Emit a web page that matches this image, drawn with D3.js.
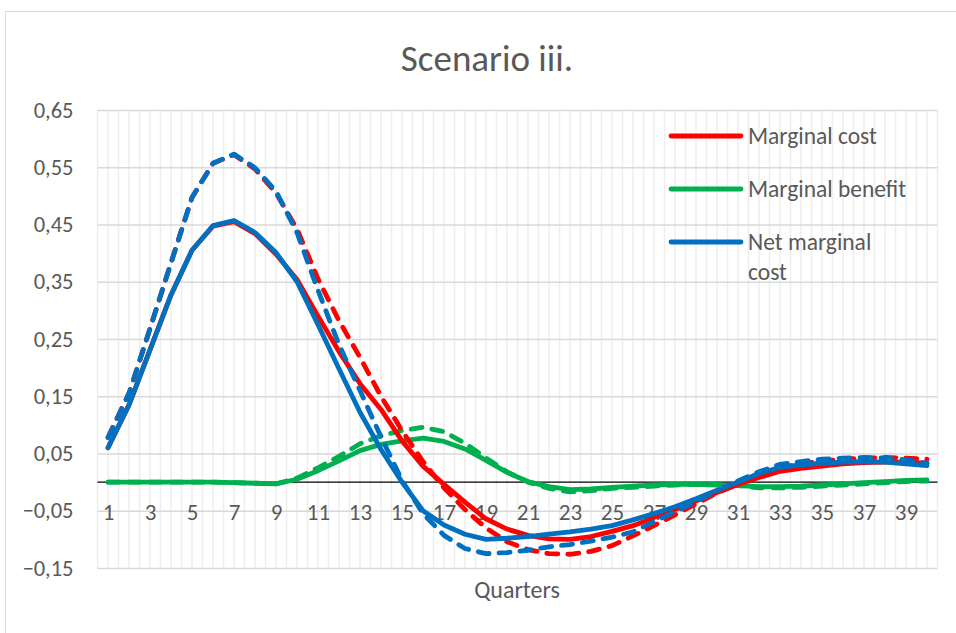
<!DOCTYPE html>
<html>
<head>
<meta charset="utf-8">
<script src="https://cdn.jsdelivr.net/npm/d3@7"></script>
<style>
  html, body { margin: 0; padding: 0; background: #fff; }
  svg { display: block; font-family: Carlito, Calibri, Lato, sans-serif; }
</style>
</head>
<body>
<svg id="chart" width="956" height="633"></svg>
<script>
// ---- data ----
const quarters = d3.range(1, 41);
const xTickLabels = d3.range(1, 41, 2);
const yTicks = [-0.15, -0.05, 0.05, 0.15, 0.25, 0.35, 0.45, 0.55, 0.65];

const marginalCost = [0.060, 0.135, 0.231, 0.327, 0.405, 0.447, 0.455, 0.434, 0.398, 0.354,
  0.290, 0.228, 0.172, 0.127, 0.072, 0.028, -0.004, -0.035, -0.064, -0.082,
  -0.093, -0.099, -0.100, -0.095, -0.086, -0.076, -0.062, -0.048, -0.033, -0.018,
  -0.004, 0.008, 0.019, 0.024, 0.028, 0.032, 0.034, 0.035, 0.035, 0.033];
const marginalCostDashed = [0.078, 0.155, 0.268, 0.383, 0.497, 0.557, 0.572, 0.547, 0.505, 0.442,
  0.355, 0.282, 0.218, 0.150, 0.090, 0.036, -0.010, -0.048, -0.080, -0.104,
  -0.118, -0.125, -0.126, -0.121, -0.111, -0.094, -0.076, -0.057, -0.038, -0.019,
  -0.003, 0.012, 0.025, 0.032, 0.037, 0.040, 0.042, 0.043, 0.042, 0.040];
const marginalBenefit = [0.000, 0.000, 0.000, 0.000, 0.000, 0.000, -0.001, -0.002, -0.003, 0.005,
  0.020, 0.037, 0.055, 0.066, 0.072, 0.077, 0.071, 0.058, 0.038, 0.017,
  0.001, -0.008, -0.013, -0.012, -0.009, -0.007, -0.005, -0.004, -0.004, -0.005,
  -0.006, -0.008, -0.008, -0.007, -0.005, -0.003, -0.001, 0.001, 0.003, 0.004];
const marginalBenefitDashed = [0.000, 0.000, 0.000, 0.000, 0.000, 0.000, -0.001, -0.002, -0.003, 0.007,
  0.025, 0.045, 0.067, 0.081, 0.090, 0.096, 0.088, 0.068, 0.042, 0.018,
  0.000, -0.011, -0.017, -0.015, -0.011, -0.009, -0.007, -0.005, -0.004, -0.004,
  -0.006, -0.010, -0.010, -0.009, -0.007, -0.005, -0.003, -0.001, 0.001, 0.002];
const netMarginalCost = [0.060, 0.135, 0.231, 0.327, 0.405, 0.448, 0.457, 0.436, 0.401, 0.350,
  0.275, 0.198, 0.122, 0.057, 0.000, -0.050, -0.075, -0.091, -0.100, -0.098,
  -0.095, -0.091, -0.087, -0.082, -0.076, -0.066, -0.055, -0.043, -0.029, -0.014,
  0.000, 0.015, 0.026, 0.030, 0.033, 0.035, 0.036, 0.035, 0.032, 0.029];
const netMarginalCostDashed = [0.078, 0.155, 0.268, 0.383, 0.497, 0.557, 0.573, 0.549, 0.508, 0.436,
  0.335, 0.240, 0.160, 0.079, 0.003, -0.055, -0.093, -0.116, -0.125, -0.123,
  -0.119, -0.113, -0.109, -0.103, -0.096, -0.087, -0.069, -0.052, -0.034, -0.015,
  0.002, 0.018, 0.031, 0.036, 0.040, 0.042, 0.043, 0.042, 0.039, 0.033];

const legendLabels = [["Marginal cost"], ["Marginal benefit"], ["Net marginal", "cost"]];
const colors = { red: "#FF0000", green: "#00B050", blue: "#0070C0" };

// ---- layout ----
const svg = d3.select("#chart");
const plot = { left: 97.5, right: 937.5, top: 110, bottom: 568 };
const textColor = "#595959";
const fontFam = "Carlito, Calibri, Lato, sans-serif";

// chart border
svg.append("rect").attr("x", 5.5).attr("y", 11.5).attr("width", 1000).attr("height", 700)
  .attr("fill", "none").attr("stroke", "#d9d9d9").attr("stroke-width", 1);

const x = d3.scalePoint().domain(quarters).range([plot.left, plot.right]).padding(0.5);
const y = d3.scaleLinear().domain([-0.15, 0.65]).range([plot.bottom, plot.top]);
const step = x.step();

// vertical gridlines (major + minor)
const vGrid = d3.range(0, quarters.length * 2 + 1).map(k => plot.left + k * step / 2);
svg.append("g").selectAll("line").data(vGrid).join("line")
  .attr("x1", d => d).attr("x2", d => d)
  .attr("y1", plot.top).attr("y2", plot.bottom)
  .attr("stroke", "#eeeeee").attr("stroke-width", 1.5);

// horizontal gridlines + y labels via axis
const yAxis = d3.axisLeft(y).tickValues(yTicks)
  .tickFormat(d => d3.format(".2f")(d).replace(".", ","))
  .tickSize(-(plot.right - plot.left)).tickPadding(24);
const gy = svg.append("g").attr("transform", `translate(${plot.left},0)`).call(yAxis);
gy.select(".domain").remove();
gy.selectAll(".tick line").attr("stroke", "#d9d9d9").attr("stroke-width", 1.5);
gy.selectAll(".tick text").attr("fill", textColor).style("font-size", "22.5px")
  .style("font-family", fontFam);

// zero axis line
svg.append("line").attr("x1", plot.left).attr("x2", plot.right)
  .attr("y1", y(0)).attr("y2", y(0)).attr("stroke", "#000").attr("stroke-width", 1.3);

// x labels
const xAxis = d3.axisBottom(x).tickValues(xTickLabels).tickSize(0).tickPadding(0);
const gx = svg.append("g").attr("transform", `translate(0,${y(0) + 22})`).call(xAxis);
gx.select(".domain").remove();
gx.selectAll(".tick text").attr("fill", textColor).style("font-size", "23px")
  .style("font-family", fontFam);

// lines
const line = d3.line().x((d, i) => x(quarters[i])).y(d => y(d));
const series = [
  { v: marginalBenefit, c: colors.green, dash: null },
  { v: marginalBenefitDashed, c: colors.green, dash: "11,10" },
  { v: marginalCost, c: colors.red, dash: null },
  { v: marginalCostDashed, c: colors.red, dash: "11,10" },
  { v: netMarginalCost, c: colors.blue, dash: null },
  { v: netMarginalCostDashed, c: colors.blue, dash: "11,10" }
];
svg.append("g").selectAll("path").data(series).join("path")
  .attr("d", d => line(d.v))
  .attr("fill", "none").attr("stroke", d => d.c).attr("stroke-width", 4.8)
  .attr("stroke-linecap", "round").attr("stroke-linejoin", "round")
  .attr("stroke-dasharray", d => d.dash);

// title
svg.append("text").attr("x", 487).attr("y", 71).attr("text-anchor", "middle")
  .attr("fill", textColor).style("font-size", "37px").text("Scenario iii.");

// axis title
svg.append("text").attr("x", 517).attr("y", 598).attr("text-anchor", "middle")
  .attr("fill", textColor).style("font-size", "24px").text("Quarters");

// legend
const legendColors = [colors.red, colors.green, colors.blue];
const legendY = [136, 189, 242];
const lg = svg.append("g");
legendLabels.forEach((lab, i) => {
  lg.append("line").attr("x1", 671).attr("x2", 741)
    .attr("y1", legendY[i]).attr("y2", legendY[i])
    .attr("stroke", legendColors[i]).attr("stroke-width", 4.8).attr("stroke-linecap", "round");
  lab.forEach((t, j) => {
    lg.append("text").attr("x", 748).attr("y", legendY[i] + j * 30)
      .attr("dy", "0.35em").attr("fill", textColor).style("font-size", "23.5px").text(t);
  });
});
</script>
</body>
</html>
